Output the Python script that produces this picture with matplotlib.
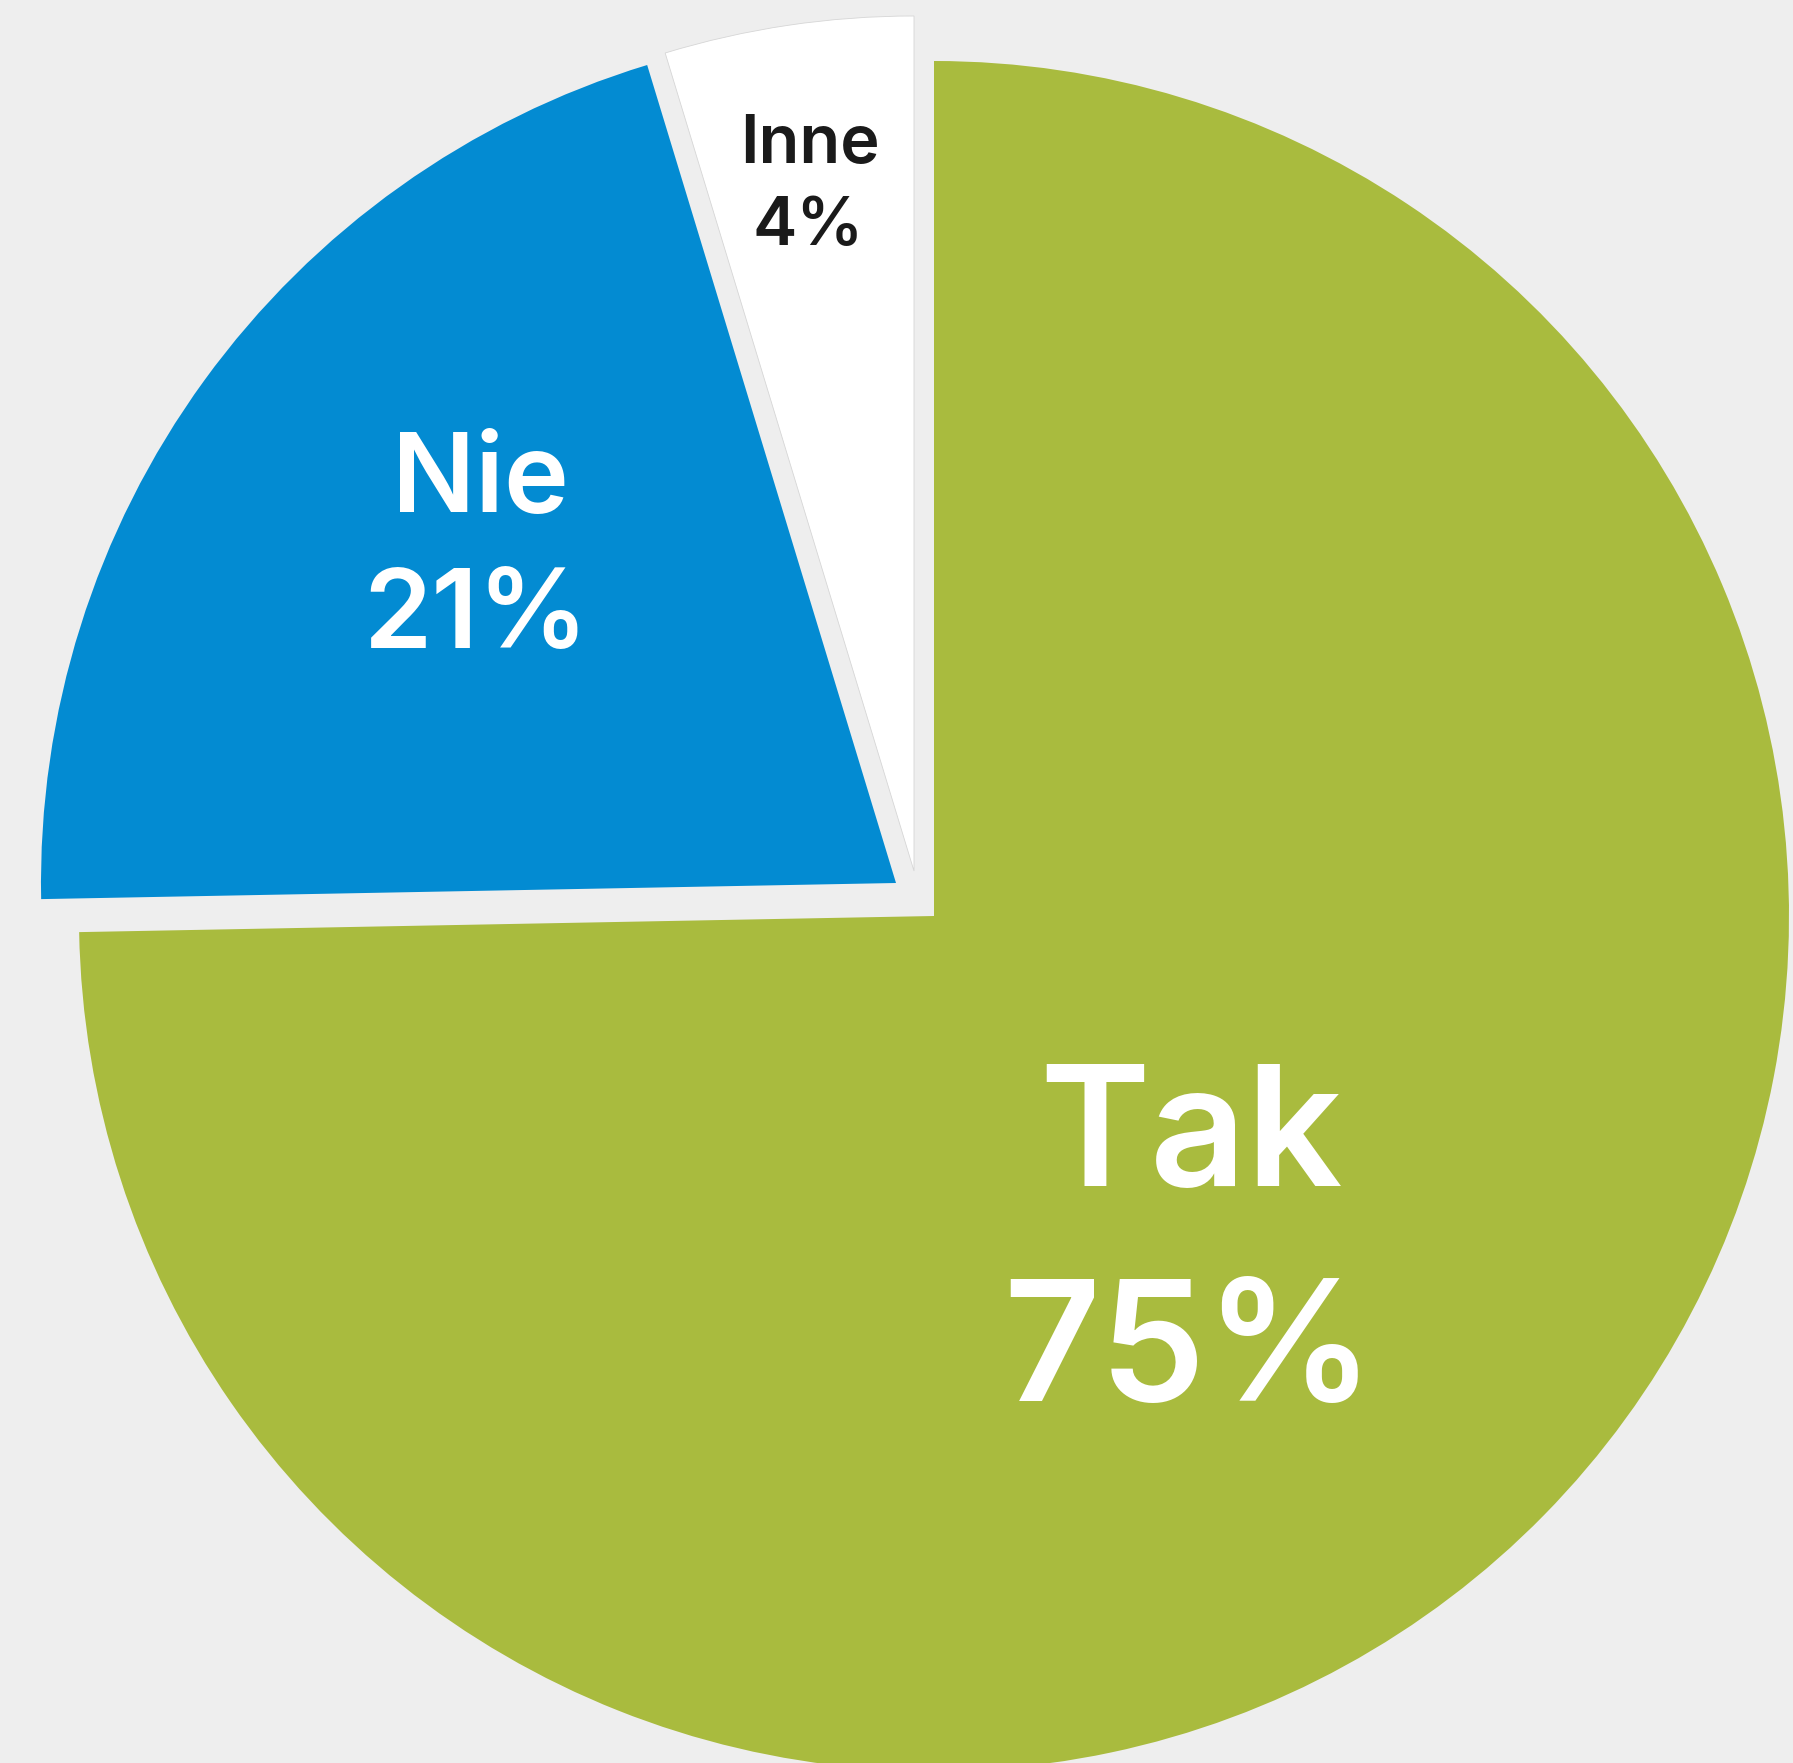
import matplotlib
matplotlib.use("Agg")
import matplotlib.pyplot as plt

# ---- data ----
categories = ["Tak", "Nie", "Inne"]
values = [74.7, 20.6, 4.7]
pct_labels = ["75%", "21%", "4%"]

# ---- style ----
colors = ["#A9BB3E", "#038BD2", "#FFFFFF"]
text_colors = ["white", "white", "#1a1a1a"]
bg = "#EEEEEE"
W, H = 1793, 1763
R = 855
cx, cy = 934, H - 916
offsets = [(0, 0), (-38, 33), (-20, 45)]
# label positions (x, baseline y from top) for name and percentage lines
name_pos = [(1191, 1186), (480, 512), (810, 163)]
pct_pos = [(1189, 1401), (476, 648), (808, 245)]
sizes = [121, 79, 48]

fig = plt.figure(figsize=(W / 100, H / 100), dpi=100, facecolor=bg)
ax = fig.add_axes([0, 0, 1, 1])
ax.set_facecolor(bg)

wedges, _ = ax.pie(values, colors=colors, startangle=90, counterclock=False,
                   radius=R, center=(cx, cy), frame=True,
                   wedgeprops=dict(linewidth=0))
ax.set_xlim(0, W)
ax.set_ylim(0, H)
ax.set_aspect("equal")
ax.axis("off")
for w, (dx, dy) in zip(wedges, offsets):
    w.set_center((cx + dx, cy + dy))
wedges[2].set_edgecolor("#d6d6d6")
wedges[2].set_linewidth(0.6)

font = ["Inter", "DejaVu Sans"]
for i in range(len(categories)):
    nx, ny = name_pos[i]
    px, py = pct_pos[i]
    ax.text(nx, H - ny, categories[i], ha="center", va="baseline",
            fontsize=sizes[i], color=text_colors[i], family=font, weight="semibold",
            zorder=5)
    ax.text(px, H - py, pct_labels[i], ha="center", va="baseline",
            fontsize=sizes[i], color=text_colors[i], family=font, weight="semibold",
            zorder=5)

fig.savefig("out.png", dpi=100, facecolor=bg)
